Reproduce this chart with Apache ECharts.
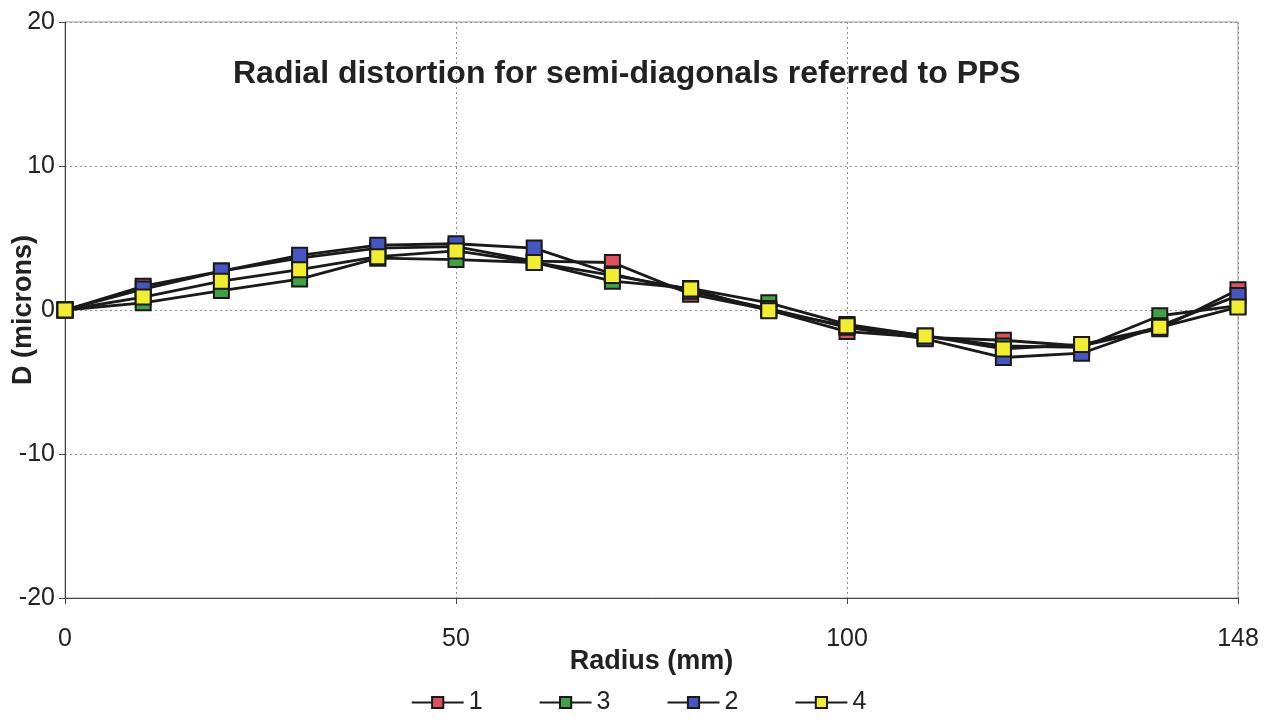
<!DOCTYPE html>
<html>
<head>
<meta charset="utf-8">
<script src="https://cdn.jsdelivr.net/npm/echarts@6/dist/echarts.min.js"></script>
<style>html,body{margin:0;padding:0;background:#fff;}#c{width:1277px;height:726px;}</style>
</head>
<body>
<div id="c"></div>
<script>
const radius = ['0','10','20','30','40','50','60','70','80','90','100','110','120','130','140','148'];
const s1 = [0, 1.65, 2.7, 3.6, 4.3, 4.4, 3.4, 3.3, 1.1, 0.0, -1.5, -1.9, -2.1, -2.5, -1.3, 1.4];
const s3 = [0, 0.5, 1.35, 2.15, 3.6, 3.5, 3.3, 2.0, 1.5, 0.5, -1.0, -1.8, -2.5, -2.6, -0.4, 0.3];
const s2 = [0, 1.45, 2.7, 3.8, 4.5, 4.6, 4.3, 2.5, 1.3, 0.1, -1.2, -2.0, -3.3, -3.0, -1.1, 1.0];
const s4 = [0, 0.9, 2.0, 2.8, 3.7, 4.1, 3.3, 2.4, 1.45, -0.05, -1.1, -1.8, -2.7, -2.4, -1.2, 0.2];
const yTicks = { min: -20, max: 20, interval: 10 };
const names = ['1','3','2','4'];
const colors = ['#e0505a','#3fa045','#4655c4','#f2ee2e'];
const dataSets = [s1, s3, s2, s4];

const chart = echarts.init(document.getElementById('c'));
const font = 'Liberation Sans, Arial, sans-serif';
chart.setOption({
  animation: false,
  backgroundColor: '#fff',
  title: {
    text: 'Radial distortion for semi-diagonals referred to PPS',
    left: 228, top: 53,
    textStyle: { fontFamily: font, fontSize: 32, fontWeight: 'bold', color: '#222' }
  },
  legend: {
    bottom: 6, left: 'center',
    itemGap: 56, itemWidth: 52, itemHeight: 14,
    data: names,
    textStyle: { fontFamily: font, fontSize: 25, color: '#222' }
  },
  grid: { left: 65, right: 39, top: 22, bottom: 128, show: true, borderColor: '#999', borderWidth: 1, containLabel: false, outerBoundsMode: 'none' },
  xAxis: {
    type: 'category', data: radius, boundaryGap: false,
    name: 'Radius (mm)', nameLocation: 'middle', nameGap: 50, nameMoveOverlap: false,
    nameTextStyle: { fontFamily: font, fontSize: 27, fontWeight: 'bold', color: '#222' },
    axisLine: { onZero: false, lineStyle: { color: '#444', width: 1 } },
    axisTick: { show: true, interval: 4, length: 6, inside: false, lineStyle: { color: '#444' } },
    axisLabel: { interval: 4, margin: 29, fontFamily: font, fontSize: 25, color: '#222' },
    splitLine: { show: true, interval: 4, lineStyle: { type: [2, 3], color: '#8890a8', width: 1 } }
  },
  yAxis: {
    type: 'value', min: yTicks.min, max: yTicks.max, interval: yTicks.interval,
    name: 'D (microns)', nameLocation: 'middle', nameGap: 28, nameRotate: 90, nameMoveOverlap: false,
    nameTextStyle: { fontFamily: font, fontSize: 27, fontWeight: 'bold', color: '#222' },
    axisLine: { show: true, onZero: false, lineStyle: { color: '#444', width: 1 } },
    axisTick: { show: true, length: 6, lineStyle: { color: '#444' } },
    axisLabel: { margin: 10, fontFamily: font, fontSize: 25, color: '#222' },
    splitLine: { show: true, lineStyle: { type: [2, 3], color: '#8890a8', width: 1 } }
  },
  series: dataSets.map((d, i) => ({
    name: names[i], type: 'line', data: d,
    symbol: 'rect', symbolSize: 15,
    lineStyle: { color: '#1a1a1a', width: 2.8 },
    itemStyle: { color: colors[i], borderColor: '#1a1a1a', borderWidth: 2 },
    z: 2 + i
  }))
});
</script>
</body>
</html>
